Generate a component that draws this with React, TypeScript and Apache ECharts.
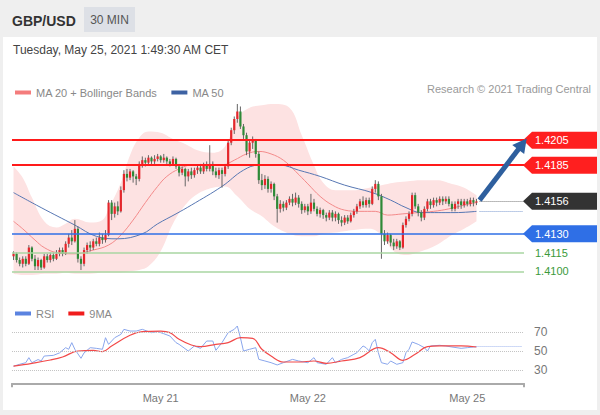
import React, { useEffect, useRef } from 'react';
import * as echarts from 'echarts';

// ---------- data ----------
// [open, close, low, high] per 30-min candle
const candles: number[][] = [
  [1.4112,1.4114,1.4109,1.4116],[1.4114,1.4109,1.4107,1.4115],[1.4109,1.4106,1.4104,1.4111],[1.4106,1.4110,1.4103,1.4112],
  [1.4110,1.4106,1.4104,1.4112],[1.4106,1.4119,1.4105,1.4121],[1.4119,1.4110,1.4108,1.4120],[1.4110,1.4104,1.4101,1.4113],
  [1.4104,1.4109,1.4101,1.4111],[1.4109,1.4103,1.4101,1.4110],[1.4103,1.4112,1.4102,1.4114],[1.4112,1.4109,1.4107,1.4114],
  [1.4109,1.4113,1.4107,1.4115],[1.4113,1.4110,1.4108,1.4115],[1.4110,1.4114,1.4109,1.4117],[1.4114,1.4117,1.4112,1.4119],
  [1.4117,1.4114,1.4112,1.4119],[1.4114,1.4122,1.4113,1.4124],[1.4122,1.4127,1.4119,1.4130],[1.4127,1.4124,1.4121,1.4133],
  [1.4124,1.4134,1.4123,1.4141],[1.4134,1.4110,1.4107,1.4136],[1.4110,1.4106,1.4101,1.4112],[1.4106,1.4117,1.4104,1.4119],
  [1.4117,1.4121,1.4114,1.4123],[1.4121,1.4119,1.4116,1.4124],[1.4119,1.4124,1.4117,1.4126],[1.4124,1.4122,1.4120,1.4127],
  [1.4122,1.4127,1.4120,1.4131],[1.4127,1.4125,1.4122,1.4130],[1.4125,1.4129,1.4123,1.4133],[1.4129,1.4155,1.4128,1.4157],
  [1.4155,1.4146,1.4141,1.4157],[1.4146,1.4152,1.4143,1.4155],[1.4152,1.4148,1.4145,1.4156],[1.4148,1.4165,1.4147,1.4168],
  [1.4165,1.4178,1.4163,1.4181],[1.4178,1.4175,1.4172,1.4182],[1.4175,1.4180,1.4173,1.4182],[1.4180,1.4176,1.4171,1.4181],
  [1.4176,1.4174,1.4169,1.4178],[1.4174,1.4186,1.4172,1.4188],[1.4186,1.4189,1.4183,1.4192],[1.4189,1.4187,1.4184,1.4191],
  [1.4187,1.4191,1.4185,1.4193],[1.4191,1.4188,1.4186,1.4192],[1.4188,1.4190,1.4186,1.4193],[1.4190,1.4192,1.4188,1.4194],
  [1.4192,1.4189,1.4187,1.4193],[1.4189,1.4191,1.4187,1.4194],[1.4191,1.4188,1.4186,1.4192],[1.4188,1.4186,1.4184,1.4190],
  [1.4186,1.4190,1.4185,1.4192],[1.4190,1.4184,1.4182,1.4191],[1.4184,1.4179,1.4176,1.4186],[1.4179,1.4182,1.4177,1.4184],
  [1.4182,1.4176,1.4168,1.4183],[1.4176,1.4180,1.4172,1.4182],[1.4180,1.4177,1.4174,1.4183],[1.4177,1.4181,1.4175,1.4183],
  [1.4181,1.4183,1.4178,1.4185],[1.4183,1.4180,1.4178,1.4186],[1.4180,1.4185,1.4178,1.4187],[1.4185,1.4182,1.4180,1.4188],
  [1.4182,1.4186,1.4180,1.4201],[1.4186,1.4180,1.4177,1.4188],[1.4180,1.4177,1.4175,1.4183],[1.4177,1.4181,1.4174,1.4183],
  [1.4181,1.4178,1.4167,1.4183],[1.4178,1.4184,1.4176,1.4186],[1.4184,1.4203,1.4182,1.4205],[1.4203,1.4213,1.4201,1.4215],
  [1.4213,1.4222,1.4210,1.4224],[1.4222,1.4228,1.4219,1.4234],[1.4228,1.4216,1.4214,1.4232],[1.4216,1.4209,1.4206,1.4218],
  [1.4209,1.4196,1.4193,1.4211],[1.4196,1.4203,1.4191,1.4205],[1.4203,1.4205,1.4198,1.4208],[1.4205,1.4194,1.4191,1.4206],
  [1.4194,1.4173,1.4170,1.4196],[1.4173,1.4169,1.4165,1.4178],[1.4169,1.4174,1.4166,1.4177],[1.4174,1.4166,1.4163,1.4176],
  [1.4166,1.4170,1.4163,1.4172],[1.4170,1.4160,1.4157,1.4171],[1.4160,1.4150,1.4139,1.4162],[1.4150,1.4154,1.4147,1.4157],
  [1.4154,1.4151,1.4148,1.4156],[1.4151,1.4155,1.4149,1.4157],[1.4155,1.4158,1.4153,1.4160],[1.4158,1.4155,1.4152,1.4162],
  [1.4155,1.4159,1.4153,1.4163],[1.4159,1.4154,1.4151,1.4161],[1.4154,1.4149,1.4146,1.4156],[1.4149,1.4152,1.4147,1.4154],
  [1.4152,1.4148,1.4145,1.4154],[1.4148,1.4155,1.4146,1.4162],[1.4155,1.4150,1.4148,1.4158],[1.4150,1.4146,1.4144,1.4152],
  [1.4146,1.4149,1.4143,1.4151],[1.4149,1.4145,1.4142,1.4150],[1.4145,1.4143,1.4140,1.4147],[1.4143,1.4147,1.4141,1.4149],
  [1.4147,1.4143,1.4140,1.4149],[1.4143,1.4146,1.4140,1.4148],[1.4146,1.4141,1.4138,1.4147],[1.4141,1.4139,1.4136,1.4144],
  [1.4139,1.4143,1.4137,1.4145],[1.4143,1.4140,1.4138,1.4145],[1.4140,1.4145,1.4139,1.4147],[1.4145,1.4148,1.4143,1.4150],
  [1.4148,1.4152,1.4146,1.4154],[1.4152,1.4156,1.4150,1.4158],[1.4156,1.4153,1.4151,1.4160],[1.4153,1.4157,1.4151,1.4159],
  [1.4157,1.4154,1.4151,1.4159],[1.4154,1.4166,1.4153,1.4168],[1.4166,1.4170,1.4163,1.4173],[1.4170,1.4160,1.4157,1.4172],
  [1.4160,1.4130,1.4110,1.4162],[1.4130,1.4124,1.4121,1.4133],[1.4124,1.4129,1.4122,1.4131],[1.4129,1.4123,1.4120,1.4130],
  [1.4123,1.4120,1.4117,1.4126],[1.4120,1.4124,1.4118,1.4126],[1.4124,1.4119,1.4117,1.4125],[1.4119,1.4137,1.4118,1.4139],
  [1.4137,1.4142,1.4135,1.4144],[1.4142,1.4146,1.4140,1.4148],[1.4146,1.4161,1.4144,1.4163],[1.4161,1.4152,1.4150,1.4163],
  [1.4152,1.4147,1.4144,1.4154],[1.4147,1.4143,1.4140,1.4149],[1.4143,1.4150,1.4141,1.4152],[1.4150,1.4156,1.4148,1.4158],
  [1.4156,1.4153,1.4150,1.4158],[1.4153,1.4157,1.4151,1.4159],[1.4157,1.4155,1.4152,1.4159],[1.4155,1.4158,1.4153,1.4160],
  [1.4158,1.4156,1.4153,1.4160],[1.4156,1.4158,1.4154,1.4160],[1.4158,1.4154,1.4152,1.4160],[1.4154,1.4150,1.4148,1.4156],
  [1.4150,1.4154,1.4148,1.4156],[1.4154,1.4156,1.4150,1.4158],[1.4156,1.4153,1.4150,1.4158],[1.4153,1.4156,1.4151,1.4158],
  [1.4156,1.4154,1.4152,1.4158],[1.4154,1.4157,1.4152,1.4159],[1.4157,1.4155,1.4152,1.4159],[1.4155,1.4156,1.4153,1.4158],
];

const categoryCount = 167; // candle slots incl. empty space on the right
const dateTickIndex = [48, 96, 148];
const dateTickText = ['May 21', 'May 22', 'May 25'];

// Bollinger bands (sampled) [candle index]
const bbIndex = [0,3,6,10,14,17,20,25,29,31,35,38,41,44,48,52,56,60,65,69,73,77,81,85,90,94,98,101,105,111,116,120,124,128,133,138,143,147,151];
const bbUpper = [1.4184,1.4175,1.4159,1.4140,1.4135,1.4138,1.4142,1.4139,1.4141,1.4150,1.4171,1.4193,1.4207,1.4212,1.4211,1.4206,1.4202,1.4197,1.4195,1.4200,1.4223,1.4231,1.4233,1.4234,1.4231,1.4209,1.4185,1.4171,1.4165,1.4165,1.4167,1.4169,1.4171,1.4172,1.4173,1.4173,1.4170,1.4167,1.4161];
const bbLower = [1.4098,1.4097,1.4097,1.4098,1.4098,1.4099,1.4098,1.4098,1.4099,1.4099,1.4099,1.4100,1.4101,1.4104,1.4116,1.4138,1.4153,1.4162,1.4167,1.4168,1.4160,1.4150,1.4144,1.4136,1.4130,1.4128,1.4128,1.4130,1.4131,1.4133,1.4134,1.4129,1.4116,1.4113,1.4116,1.4121,1.4129,1.4134,1.4140];

const ma20Index = [0,3,7,10,14,20,26,31,35,39,43,47,50,54,58,63,68,72,76,80,84,88,92,96,100,104,108,113,118,122,127,132,137,142,147,151];
const ma20Value = [1.4140,1.4134,1.4125,1.4119,1.4115,1.4114,1.4117,1.4121,1.4129,1.4141,1.4155,1.4168,1.4176,1.4182,1.4185,1.4185,1.4185,1.4189,1.4194,1.4196,1.4194,1.4189,1.4180,1.4170,1.4160,1.4153,1.4149,1.4148,1.4148,1.4145,1.4146,1.4147,1.4148,1.4150,1.4153,1.4155];

const ma50Index = [0,9,20,27,34,42,47,53,58,68,75,80,87,93,100,108,117,123,128,133,144,151];
const ma50Value = [1.4163,1.4151,1.4137,1.4128,1.4126,1.4130,1.4138,1.4146,1.4153,1.4168,1.4181,1.4185,1.4185,1.4181,1.4176,1.4169,1.4163,1.4157,1.4151,1.4147,1.4147,1.4148];

const rsiIndex = [0,2,4,5,6,8,9,10,13,15,17,18,19,20,22,23,25,27,29,30,31,33,35,36,38,40,42,45,47,49,51,53,54,57,59,61,63,65,66,68,70,72,73,74,75,77,79,80,82,84,86,88,91,93,96,98,99,102,104,105,107,109,111,112,114,115,116,117,118,119,120,122,123,125,127,128,129,130,132,134,135,136,139,141,143,146,148,150,151];
const rsiValue = [34,36,37.7,43,37.7,41,39.5,44.7,45.4,48,53.5,51.8,58.8,51.8,42.3,48,53.5,52.8,51.8,64,57,64,67.5,72.8,71,71,72.8,69.3,70.4,68.2,65.8,58.8,57,50,55.3,52.8,60.5,60.5,50.7,58.8,69.3,72.8,76.3,64,50,51.8,53.5,41.2,39.5,37.7,35.3,37.7,41.2,39.5,37.7,43,37.7,36,43,37.7,41.2,43,46.5,48.2,55.3,53.5,50,58.8,62.3,48.2,37.7,36,39.5,36,37.7,48.2,51.8,59.5,57,53.5,50,55.3,56,55.3,54.2,52.8,53.5,54.2,54.6];

const rsiMaIndex = [0,6,12,16,21,26,29,32,38,42,48,51,54,58,61,66,70,74,78,81,84,88,93,98,102,107,113,119,123,127,131,135,139,146,151];
const rsiMaValue = [34,37,40.5,43.7,50,50.7,49.3,55.3,66.5,70.4,71,69.3,62.3,56.3,54.6,57,58.8,64,63.3,51.8,44.7,38.4,38.4,39.5,37,39.5,43,53.5,48.2,40.2,46.5,54.6,55.3,55.3,54.2];
const rsiLevels = [30, 50, 70];

const resistanceLevels = [1.4205, 1.4185];
const lastPrice = 1.4156;
const supportMain = 1.4130;
const supportMinor = [1.4115, 1.4100];
const ma50Last = 1.4148;
const rsiLast = 54.6;
const arrowFrom = [152, 1.4157];
const arrowTo = [166, 1.4202];

const FONT = "'Liberation Sans', Arial, sans-serif";

export default function App() {
  const ref = useRef<HTMLDivElement>(null);

  useEffect(() => {
    document.body.style.margin = '0';
    const chart = echarts.init(ref.current!, undefined, { renderer: 'svg' });
    const cats = Array.from({ length: categoryCount }, (_, i) => String(i));
    const labelAt: Record<number, string> = {};
    dateTickIndex.forEach((k, j) => (labelAt[k] = dateTickText[j]));
    const pairs = (idx: number[], vals: number[]) => idx.map((k, j) => [k, vals[j]]);
    const lowerPairs = pairs(bbIndex, bbLower);
    const widthPairs = bbIndex.map((k, j) => [k, +(bbUpper[j] - bbLower[j]).toFixed(5)]);
    const lastIdx = candles.length - 1;

    const option: any = {
      animation: false,
      backgroundColor: '#efefef',
      textStyle: { fontFamily: FONT },
      grid: [
        { left: 12, width: 512, top: 100, height: 190 },
        { left: 12, width: 512, top: 322.5, height: 60.8 },
      ],
      legend: [
        {
          data: ['MA 20 + Bollinger Bands', 'MA 50'], left: 10, top: 82, icon: 'rect',
          itemWidth: 16, itemHeight: 4, itemGap: 14, selectedMode: false,
          textStyle: { color: '#888', fontSize: 11, fontFamily: FONT },
        },
        {
          data: ['RSI', '9MA'], left: 10, top: 303, icon: 'rect',
          itemWidth: 16, itemHeight: 4, itemGap: 14, selectedMode: false,
          textStyle: { color: '#888', fontSize: 11, fontFamily: FONT },
        },
      ],
      xAxis: [
        { type: 'category', gridIndex: 0, data: cats, show: false, boundaryGap: true },
        {
          type: 'category', gridIndex: 1, data: cats, boundaryGap: false, position: 'bottom',
          axisLine: { lineStyle: { color: '#aaa', width: 2 } },
          axisTick: { show: true, length: 4, lineStyle: { color: '#aaa', width: 2 },
            interval: (i: number) => i === 0 || i === categoryCount - 1 },
          axisLabel: { show: false },
          splitLine: { show: false },
        },
        {
          type: 'category', gridIndex: 1, data: cats, boundaryGap: true, position: 'bottom',
          axisLine: { show: false }, axisTick: { show: false },
          axisLabel: { interval: 0, color: '#777', fontSize: 11, margin: 9, fontFamily: FONT,
            formatter: (_v: string, i: number) => labelAt[i] ?? '' },
          splitLine: { show: false },
        },
      ],
      yAxis: [
        { type: 'value', gridIndex: 0, min: 1.4085, max: 1.42372, show: false, splitLine: { show: false } },
        {
          type: 'value', gridIndex: 1, min: 16, max: 80, interval: 2, position: 'right',
          axisLine: { show: false }, axisTick: { show: false }, splitLine: { show: false },
          axisLabel: { color: '#777', fontSize: 12, margin: 10, fontFamily: FONT,
            formatter: (v: number) => (rsiLevels.includes(Math.round(v)) ? String(Math.round(v)) : '') },
        },
      ],
      series: [
        {
          name: 'bbBase', type: 'line', xAxisIndex: 0, yAxisIndex: 0, data: lowerPairs, stack: 'bb',
          smooth: 0.4, symbol: 'none', lineStyle: { opacity: 0 }, silent: true, z: 1,
        },
        {
          name: 'bbBand', type: 'line', xAxisIndex: 0, yAxisIndex: 0, data: widthPairs, stack: 'bb',
          smooth: 0.4, symbol: 'none', lineStyle: { opacity: 0 }, silent: true, z: 1,
          areaStyle: { color: '#fde2e2', opacity: 1 },
        },
        {
          name: 'MA 20 + Bollinger Bands', type: 'line', xAxisIndex: 0, yAxisIndex: 0,
          data: pairs(ma20Index, ma20Value), smooth: 0.4, symbol: 'none', z: 2,
          color: '#f47c7c', lineStyle: { width: 1, color: '#f38a8a' },
          markLine: {
            silent: true, symbol: ['none', 'none'], label: { show: false }, precision: 6,
            data: [
              ...resistanceLevels.map((v) => ({ yAxis: v, lineStyle: { color: '#ff1a1a', width: 2, type: 'solid' } })),
              { yAxis: supportMain, lineStyle: { color: '#2f6fe6', width: 1.5, type: 'solid' } },
              ...supportMinor.map((v) => ({ yAxis: v, lineStyle: { color: '#a9d6a2', width: 1.5, type: 'solid' } })),
              [
                { coord: [lastIdx + 1, lastPrice] },
                { coord: [categoryCount - 1, lastPrice], lineStyle: { color: '#777', width: 1, type: 'dotted' } },
              ],
            ],
          },
        },
        {
          name: 'MA 50', type: 'line', xAxisIndex: 0, yAxisIndex: 0,
          data: pairs(ma50Index, ma50Value), smooth: 0.4, symbol: 'none', z: 2,
          color: '#3d62a3', lineStyle: { width: 1, color: '#5777b3' },
          markLine: {
            silent: true, symbol: ['none', 'none'], label: { show: false }, precision: 6,
            data: [[
              { coord: [lastIdx + 1, ma50Last] },
              { coord: [categoryCount - 1, ma50Last], lineStyle: { color: '#7d9bd0', width: 1, type: 'dotted' } },
            ]],
          },
        },
        {
          name: 'candles', type: 'custom', xAxisIndex: 0, yAxisIndex: 0, z: 3,
          data: candles.map((d, i) => [i, d[0], d[1], d[2], d[3]]),
          encode: { x: 0, y: [1, 2, 3, 4] },
          renderItem: (_p: any, api: any) => {
            const i = api.value(0);
            const o = api.value(1), c = api.value(2), l = api.value(3), h = api.value(4);
            const po = api.coord([i, o]);
            const pc = api.coord([i, c]);
            const pl = api.coord([i, l]);
            const ph = api.coord([i, h]);
            const x = po[0];
            const top = Math.min(po[1], pc[1]);
            const hgt = Math.max(1.2, Math.abs(po[1] - pc[1]));
            const up = c >= o;
            return {
              type: 'group',
              children: [
                { type: 'line', shape: { x1: x, y1: ph[1], x2: x, y2: pl[1] }, style: { stroke: '#666', lineWidth: 1 } },
                { type: 'rect', shape: { x: x - 1.1, y: top, width: 2.2, height: hgt },
                  style: { fill: up ? '#e5262b' : '#2e8a37', stroke: null } },
              ],
            };
          },
          markLine: {
            silent: true, symbol: ['none', 'none'], label: { show: false }, z: 10, precision: 6,
            data: [[
              { coord: arrowFrom, symbol: 'none' },
              { coord: arrowTo, symbol: 'triangle', symbolSize: [15, 14],
                lineStyle: { color: '#2e5f9e', width: 5, type: 'solid' } },
            ]],
          },
        },
        {
          name: 'RSI', type: 'line', xAxisIndex: 2, yAxisIndex: 1, data: pairs(rsiIndex, rsiValue),
          symbol: 'none', color: '#5b83e0', lineStyle: { width: 1, color: '#8aa6ec' }, z: 2,
          markLine: {
            silent: true, symbol: ['none', 'none'], label: { show: false }, precision: 3,
            data: [
              ...rsiLevels.map((v) => ({ yAxis: v, lineStyle: { color: '#c4c4c4', width: 1, type: 'dotted' } })),
              [
                { coord: [lastIdx, rsiLast] },
                { coord: [categoryCount - 1, rsiLast], lineStyle: { color: '#9fb5ee', width: 1, type: 'dotted' } },
              ],
            ],
          },
        },
        {
          name: '9MA', type: 'line', xAxisIndex: 2, yAxisIndex: 1, data: pairs(rsiMaIndex, rsiMaValue),
          smooth: 0.4, symbol: 'none', color: '#f01c1c', lineStyle: { width: 1.2, color: '#f24a4a' }, z: 3,
        },
      ],
    };
    chart.setOption(option);

    const yOf = (v: number) => chart.convertToPixel({ yAxisIndex: 0 }, v) as number;
    const tag = (v: number, fill: string) => {
      const y = yOf(v);
      return [
        { type: 'polygon', shape: { points: [[523, y], [532, y - 8.5], [597, y - 8.5], [597, y + 8.5], [532, y + 8.5]] },
          style: { fill } },
        { type: 'text', x: 535, y, style: { text: v.toFixed(4), verticalAlign: 'middle', font: `11px ${FONT}`, fill: '#fff' } },
      ];
    };
    const plainTag = (v: number) => ({
      type: 'text', x: 535, y: yOf(v),
      style: { text: v.toFixed(4), verticalAlign: 'middle', font: `11px ${FONT}`, fill: '#3b9a3b' },
    });

    const graphic: any[] = [
      { type: 'rect', shape: { x: 3, y: 37, width: 594, height: 373 }, style: { fill: '#ffffff' }, z: -10 },
      { type: 'text', x: 12, y: 21, style: { text: 'GBP/USD', verticalAlign: 'middle', font: `bold 14px ${FONT}`, fill: '#333' } },
      { type: 'rect', shape: { x: 84, y: 7, width: 51, height: 25 }, style: { fill: '#dde0e6' } },
      { type: 'text', x: 109.5, y: 20, style: { text: '30 MIN', align: 'center', verticalAlign: 'middle', font: `12px ${FONT}`, fill: '#555' } },
      { type: 'text', x: 13, y: 50, style: { text: 'Tuesday, May 25, 2021 1:49:30 AM CET', verticalAlign: 'middle', font: `12px ${FONT}`, fill: '#444' } },
      { type: 'text', x: 591, y: 89, style: { text: 'Research © 2021 Trading Central', align: 'right', verticalAlign: 'middle', font: `11px ${FONT}`, fill: '#9a9a9a' } },
      ...tag(resistanceLevels[0], '#ff1f1f'),
      ...tag(resistanceLevels[1], '#ff1f1f'),
      ...tag(lastPrice, '#333333'),
      ...tag(supportMain, '#2f6fe6'),
      ...supportMinor.map(plainTag),
    ];
    chart.setOption({ graphic });

    return () => chart.dispose();
  }, []);

  return <div ref={ref} style={{ width: 600, height: 415 }} />;
}
